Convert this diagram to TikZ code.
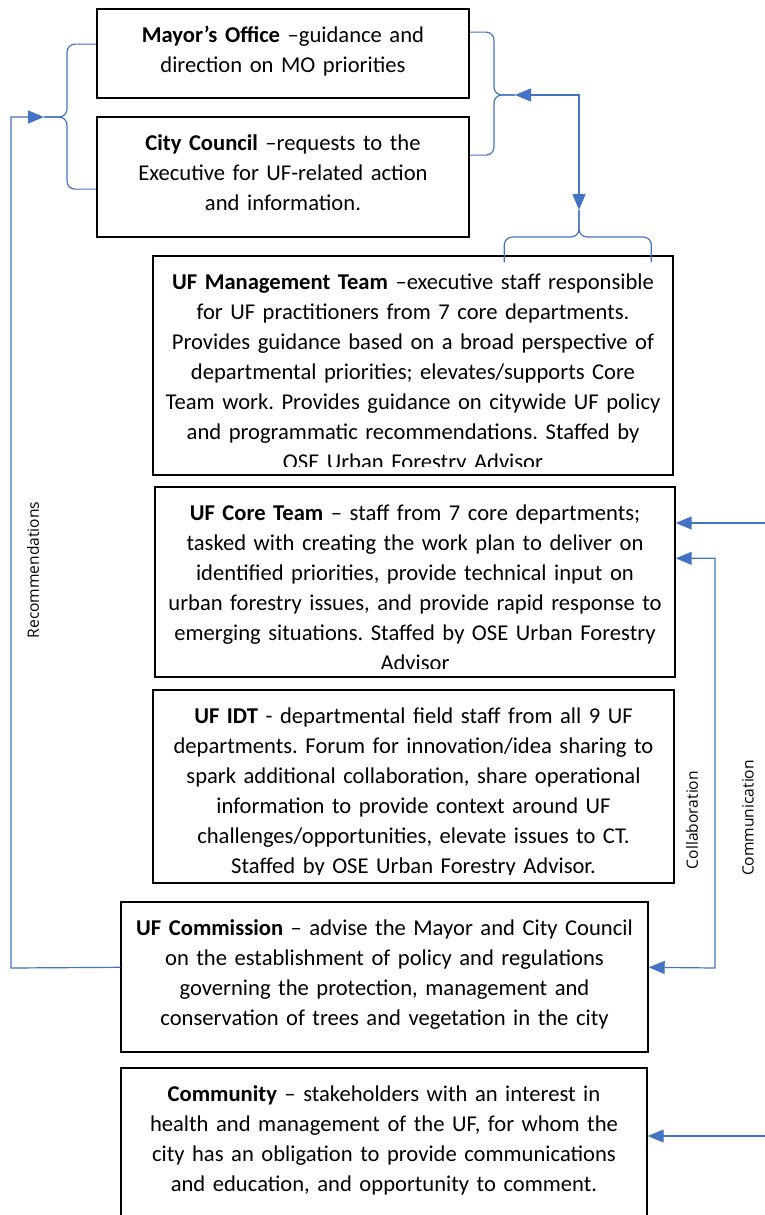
\documentclass[tikz,border=0pt]{standalone}
\usepackage{fontspec}
\setmainfont{Carlito}
\newfontfamily\lblfont{Open Sans}
\usepackage{xcolor}
\usetikzlibrary{arrows.meta,positioning,calc,fit}
\definecolor{ufblue}{HTML}{4472C4}
\frenchspacing
\tikzset{
  every node/.style={font=\fontsize{11.3}{15}\selectfont},
  frame/.style={draw, rectangle, inner sep=0pt, line width=0.7pt},
  boxtext/.style={draw=none, fill=none, inner sep=0pt, align=center, anchor=base, text width=320pt},
  flow/.style={draw=ufblue, line width=0.6pt, -{Triangle[length=8pt,width=6.5pt]}},
  flowboth/.style={draw=ufblue, line width=0.6pt, {Triangle[length=8pt,width=6.5pt]}-{Triangle[length=8pt,width=6.5pt]}},
  brace/.style={draw=ufblue, line width=0.6pt, rounded corners=4pt},
  sidelabel/.style={font=\lblfont\fontsize{7.8}{10}\selectfont, rotate=90}
}
% box: name, corners, text (clipped like a text box)
\newcommand{\orgbox}[4][]{%
  \node[frame, #1, fit={#3}, path picture={%
    \clip (path picture bounding box.north west) rectangle ([yshift=4.5pt]path picture bounding box.south east);
    \node[boxtext] at ([yshift=-16.5pt]path picture bounding box.north) {#4};}] (#2) {};}

\begin{document}
\begin{tikzpicture}[x=0.5pt, y=-0.5pt]
\useasboundingbox (0,0) rectangle (765,1215);

% Top: Mayor and Council
\orgbox[line width=0.9pt]{mayor}{(97,9)(469,98)}{\textbf{Mayor’s Office} --guidance and\\direction on MO priorities}
\orgbox[line width=0.9pt]{council}{(97,117)(469,237)}{\textbf{City Council} --requests to the\\Executive for UF-related action\\and information.}

% Teams
\orgbox{mgmt}{(153,256)(673,475)}{\textbf{UF Management Team} --executive staff responsible\\for UF practitioners from 7 core departments.\\Provides guidance based on a broad perspective of\\departmental priorities; elevates/supports Core\\Team work. Provides guidance on citywide UF policy\\and programmatic recommendations. Staffed by\\OSE Urban Forestry Advisor}
\orgbox{core}{(155,487)(675,677)}{\textbf{UF Core Team} -- staff from 7 core departments;\\tasked with creating the work plan to deliver on\\identified priorities, provide technical input on\\urban forestry issues, and provide rapid response to\\emerging situations. Staffed by OSE Urban Forestry\\Advisor}
\orgbox{idt}{(153,690)(674,883)}{\textbf{UF IDT} - departmental field staff from all 9 UF\\departments. Forum for innovation/idea sharing to\\spark additional collaboration, share operational\\information to provide context around UF\\challenges/opportunities, elevate issues to CT.\\Staffed by OSE Urban Forestry Advisor.}

% Commission and Community
\orgbox{comm}{(121,902)(648,1052)}{\textbf{UF Commission} -- advise the Mayor and City Council\\on the establishment of policy and regulations\\governing the protection, management and\\conservation of trees and vegetation in the city}
\orgbox{community}{(121,1068)(647,1245)}{\textbf{Community} -- stakeholders with an interest in\\health and management of the UF, for whom the\\city has an obligation to provide communications\\and education, and opportunity to comment.}

% Braces
\coordinate (lbtip) at (44,117);
\coordinate (rbtip) at (515,95);
\coordinate (bbtip) at (579,210);
\draw[brace] ($(mayor.north west)+(0,36)$) -| (67,117) -- (lbtip);
\draw[brace] ($(council.north west)+(0,73)$) -| (67,117) -- (lbtip);
\draw[brace] ($(mayor.north east)+(0,24)$) -| (494,95) -- (rbtip);
\draw[brace] ($(council.north east)+(0,39)$) -| (494,95) -- (rbtip);
\draw[brace] ($(mgmt.north west)+(352,7)$) |- (579,237) -- (bbtip);
\draw[brace] ($(mgmt.north west)+(499,7)$) |- (579,237) -- (bbtip);

% Arrows
\draw[flowboth] (rbtip) -| (bbtip);
\draw[flow] ($(comm.north west)+(0,66)$) -- (11,968) |- (lbtip);
\draw[flowboth] ($(core.north east)+(0,72)$) -| (715,968) -- ($(comm.north east)+(0,66)$);
\coordinate (comtop) at (790,523);
\coordinate (combot) at (790,1136);
\draw[flow] (comtop) -- (core.east |- comtop);
\draw[flow] (combot) -- (community.east |- combot);

% Labels
\node[sidelabel] (reclbl) at (33,570) {Recommendations};
\node[sidelabel] (collbl) at (692,820) {Collaboration};
\node[sidelabel] (comlbl) at (748,818) {Communication};

\end{tikzpicture}
\end{document}
